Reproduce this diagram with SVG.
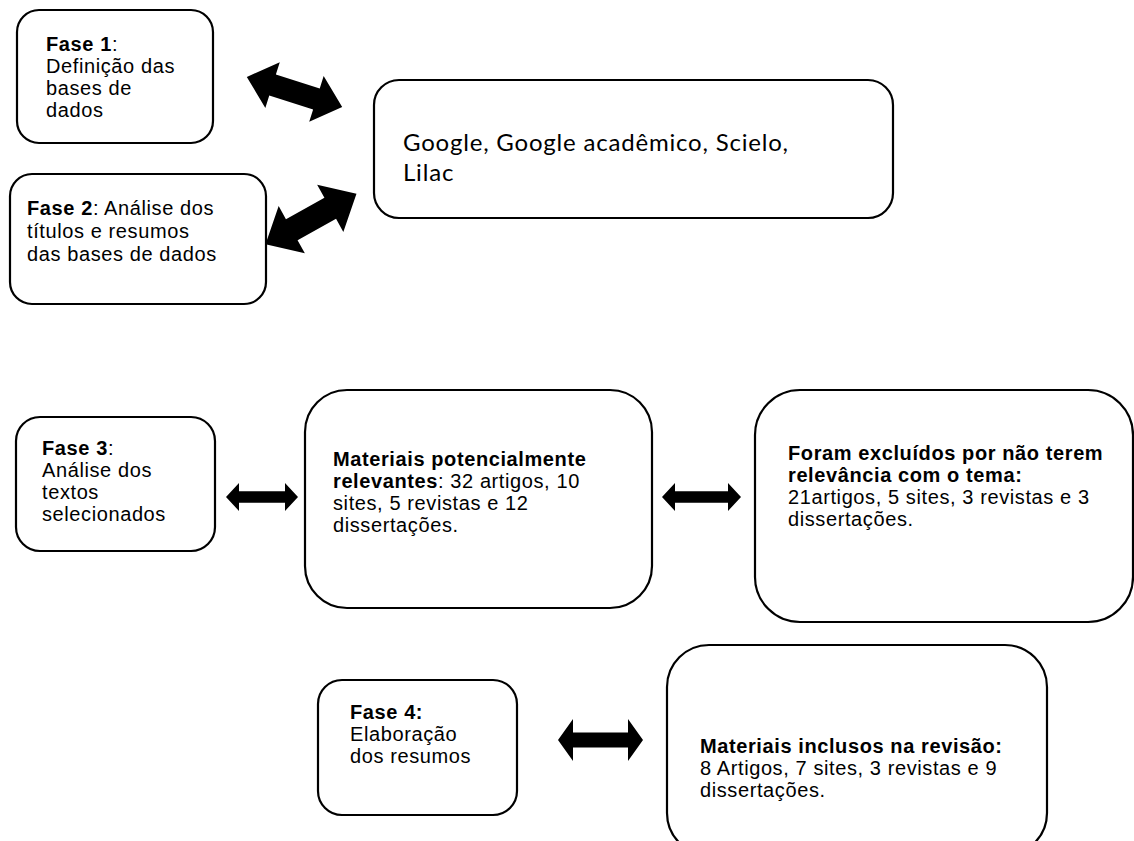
<svg xmlns="http://www.w3.org/2000/svg" width="1134" height="841" viewBox="0 0 1134 841">
<defs>
<style>
.box{fill:#fff;stroke:#000;stroke-width:2.2}
.t{font-family:"Liberation Sans",Arial,sans-serif;font-size:20px;letter-spacing:0.6px;fill:#000}
.b{font-weight:bold}
.g{font-family:Lato,"Open Sans",sans-serif;font-size:24px;letter-spacing:0.8px;fill:#000}
.arr{fill:#000;stroke:none}
</style>
</defs>
<rect width="1134" height="841" fill="#fff"/>
<g id="connectors">
<polygon class="arr" transform="translate(294.5,92) rotate(17.5)" points="-50,0 -23,-24 -23,-11 23,-11 23,-24 50,0 23,24 23,11 -23,11 -23,24"/>
<polygon class="arr" transform="translate(311,219) rotate(-29)" points="-52,0 -22,-27 -22,-12 22,-12 22,-27 52,0 22,27 22,12 -22,12 -22,27"/>
<polygon class="arr" transform="translate(262,497)" points="-36,0 -23,-14 -23,-5.8 23,-5.8 23,-14 36,0 23,14 23,5.8 -23,5.8 -23,14"/>
<polygon class="arr" transform="translate(701.5,497)" points="-39.5,0 -26.5,-14 -26.5,-5.8 26.5,-5.8 26.5,-14 39.5,0 26.5,14 26.5,5.8 -26.5,5.8 -26.5,14"/>
<polygon class="arr" transform="translate(600.5,740)" points="-42.5,0 -27.5,-21 -27.5,-7.5 27.5,-7.5 27.5,-21 42.5,0 27.5,21 27.5,7.5 -27.5,7.5 -27.5,21"/>
</g>
<g id="fase1">
<rect class="box" x="17" y="10" width="196" height="133" rx="22"/>
<text class="t" x="46" y="51"><tspan class="b">Fase 1</tspan>:</text>
<text class="t" x="46" y="73">Definição das</text>
<text class="t" x="46" y="95">bases de</text>
<text class="t" x="46" y="117">dados</text>
</g>
<g id="fase2">
<rect class="box" x="10" y="174" width="256" height="130" rx="22"/>
<text class="t" x="27" y="215"><tspan class="b">Fase 2</tspan>: Análise dos</text>
<text class="t" x="27" y="238">títulos e resumos</text>
<text class="t" x="27" y="261">das bases de dados</text>
</g>
<g id="bases">
<rect class="box" x="374" y="80" width="519" height="138" rx="25"/>
<text class="g" x="403" y="151">Google, Google acadêmico, Scielo,</text>
<text class="g" x="403" y="181">Lilac</text>
</g>
<g id="fase3">
<rect class="box" x="16" y="417" width="199" height="134" rx="24"/>
<text class="t" x="42" y="455"><tspan class="b">Fase 3</tspan>:</text>
<text class="t" x="42" y="477">Análise dos</text>
<text class="t" x="42" y="499">textos</text>
<text class="t" x="42" y="521">selecionados</text>
</g>
<g id="potenciais">
<rect class="box" x="305" y="390" width="347" height="218" rx="42"/>
<text class="t" x="333" y="466"><tspan class="b">Materiais potencialmente</tspan></text>
<text class="t" x="333" y="488"><tspan class="b">relevantes</tspan>: 32 artigos, 10</text>
<text class="t" x="333" y="510">sites, 5 revistas e 12</text>
<text class="t" x="333" y="532">dissertações.</text>
</g>
<g id="excluidos">
<rect class="box" x="755" y="390" width="378" height="232" rx="45"/>
<text class="t b" x="788" y="460">Foram excluídos por não terem</text>
<text class="t b" x="788" y="482">relevância com o tema:</text>
<text class="t" x="788" y="504">21artigos, 5 sites, 3 revistas e 3</text>
<text class="t" x="788" y="526">dissertações.</text>
</g>
<g id="fase4">
<rect class="box" x="318" y="680" width="199" height="135" rx="24"/>
<text class="t b" x="350" y="719">Fase 4:</text>
<text class="t" x="350" y="741">Elaboração</text>
<text class="t" x="350" y="763">dos resumos</text>
</g>
<g id="inclusos">
<rect class="box" x="667" y="645" width="380" height="210" rx="42"/>
<text class="t b" x="700" y="753">Materiais inclusos na revisão:</text>
<text class="t" x="700" y="775">8 Artigos, 7 sites, 3 revistas e 9</text>
<text class="t" x="700" y="797">dissertações.</text>
</g>
</svg>
